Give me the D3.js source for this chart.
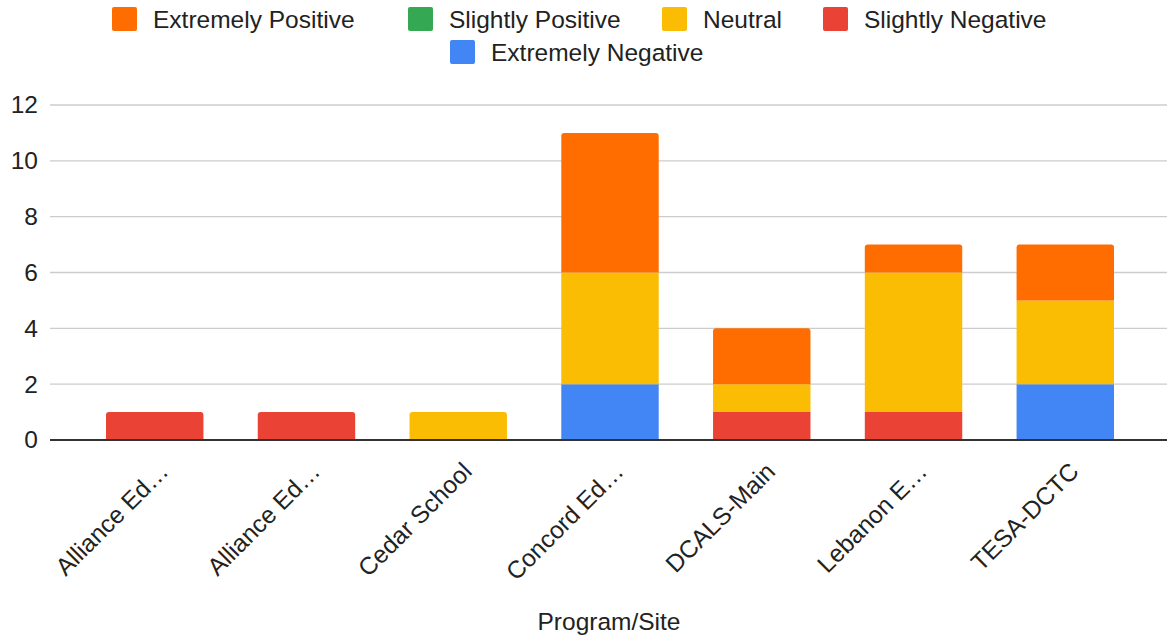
<!DOCTYPE html>
<html>
<head>
<meta charset="utf-8">
<script src="https://cdn.jsdelivr.net/npm/d3@7"></script>
<style>
  html, body { margin: 0; padding: 0; background: #fff; }
  svg { display: block; font-family: "Liberation Sans", Arial, sans-serif; }
</style>
</head>
<body>
<svg id="chart" width="1173" height="638"></svg>
<script>
// Program sites along the x axis
const sites = ["Alliance Ed…", "Alliance Ed… ", "Cedar School", "Concord Ed…", "DCALS-Main", "Lebanon E…", "TESA-DCTC"];

// Response counts per rating, one array per series (same order as sites)
const extremelyNegative = [0, 0, 0, 2, 0, 0, 2];
const slightlyNegative  = [1, 1, 0, 0, 1, 1, 0];
const neutral           = [0, 0, 1, 4, 1, 5, 3];
const slightlyPositive  = [0, 0, 0, 0, 0, 0, 0];
const extremelyPositive = [0, 0, 0, 5, 2, 1, 2];

// Stack order (bottom to top) and legend order
const stackKeys  = ["Extremely Negative", "Slightly Negative", "Neutral", "Slightly Positive", "Extremely Positive"];
const legendKeys = ["Extremely Positive", "Slightly Positive", "Neutral", "Slightly Negative", "Extremely Negative"];
const yTicks = [0, 2, 4, 6, 8, 10, 12];

const colors = {
  "Extremely Positive": "#ff6d01",
  "Slightly Positive":  "#34a853",
  "Neutral":            "#fbbc04",
  "Slightly Negative":  "#ea4335",
  "Extremely Negative": "#4285f4"
};
const seriesValues = {
  "Extremely Negative": extremelyNegative,
  "Slightly Negative":  slightlyNegative,
  "Neutral":            neutral,
  "Slightly Positive":  slightlyPositive,
  "Extremely Positive": extremelyPositive
};

const rows = sites.map((s, i) => {
  const r = { site: s };
  stackKeys.forEach(k => r[k] = seriesValues[k][i]);
  return r;
});

const FONT = 24.5;
const svg = d3.select("#chart");
const W = 1173;
const plotLeft = 50, plotRight = 1167, plotTop = 105, plotBottom = 440;

const x = d3.scaleBand().domain(sites).range([plotLeft, 1170]).paddingInner(0.358).paddingOuter(0.369);
const y = d3.scaleLinear().domain([0, 12]).range([plotBottom, plotTop]);

// Gridlines
svg.append("g")
  .selectAll("line")
  .data(yTicks.filter(t => t !== 0))
  .join("line")
  .attr("x1", plotLeft).attr("x2", plotRight)
  .attr("y1", d => y(d)).attr("y2", d => y(d))
  .attr("stroke", "#cccccc").attr("stroke-width", 1.3);

// Y axis labels
const yAxis = d3.axisLeft(y).tickValues(yTicks).tickSize(0).tickPadding(12);
svg.append("g")
  .attr("transform", `translate(${plotLeft},0)`)
  .call(yAxis)
  .call(g => g.select(".domain").remove())
  .call(g => g.selectAll("text")
    .attr("font-size", FONT).attr("fill", "#222")
    .attr("font-family", "Liberation Sans, Arial, sans-serif"));

// Stacked bars; the topmost segment of each bar gets rounded top corners
const stacked = d3.stack().keys(stackKeys)(rows);
const topKey = rows.map(r => {
  let k = null;
  stackKeys.forEach(s => { if (r[s] > 0) k = s; });
  return k;
});

const r = 3;
stacked.forEach(layer => {
  const key = layer.key;
  svg.append("g")
    .selectAll("path")
    .data(layer.map((d, i) => ({ d, i })).filter(o => o.d[1] - o.d[0] > 0))
    .join("path")
    .attr("fill", colors[key])
    .attr("d", o => {
      const x0 = x(sites[o.i]), w = x.bandwidth();
      const y0 = y(o.d[0]), y1 = y(o.d[1]);
      if (topKey[o.i] === key) {
        return `M${x0},${y0}V${y1 + r}Q${x0},${y1} ${x0 + r},${y1}H${x0 + w - r}Q${x0 + w},${y1} ${x0 + w},${y1 + r}V${y0}Z`;
      }
      return `M${x0},${y0}V${y1}H${x0 + w}V${y0}Z`;
    });
});

// Baseline
svg.append("line")
  .attr("x1", plotLeft).attr("x2", plotRight)
  .attr("y1", y(0)).attr("y2", y(0))
  .attr("stroke", "#333").attr("stroke-width", 2);

// X axis labels, rotated
const xAxis = d3.axisBottom(x).tickSize(0).tickPadding(0);
svg.append("g")
  .attr("transform", `translate(0,${y(0)})`)
  .call(xAxis)
  .call(g => g.select(".domain").remove())
  .call(g => g.selectAll("text")
    .text(d => d.trim())
    .attr("font-size", FONT).attr("fill", "#222")
    .attr("font-family", "Liberation Sans, Arial, sans-serif")
    .attr("text-anchor", "end")
    .attr("dy", 0)
    .attr("transform", "translate(15,33) rotate(-45)"));

// X axis title
svg.append("text")
  .attr("x", 609).attr("y", 630)
  .attr("text-anchor", "middle")
  .attr("font-size", FONT).attr("fill", "#222")
  .text("Program/Site");

// Legend
const legendPos = [
  { x: 112, y: 19 }, { x: 408, y: 19 }, { x: 662, y: 19 }, { x: 823, y: 19 },
  { x: 450, y: 52 }
];
const lg = svg.append("g").selectAll("g").data(legendKeys).join("g")
  .attr("transform", (d, i) => `translate(${legendPos[i].x},${legendPos[i].y})`);
lg.append("rect")
  .attr("x", 0).attr("y", -12).attr("width", 25).attr("height", 24).attr("rx", 2)
  .attr("fill", d => colors[d]);
lg.append("text")
  .attr("x", 41).attr("y", 0).attr("dy", "0.35em")
  .attr("font-size", FONT).attr("fill", "#222")
  .text(d => d);
</script>
</body>
</html>
